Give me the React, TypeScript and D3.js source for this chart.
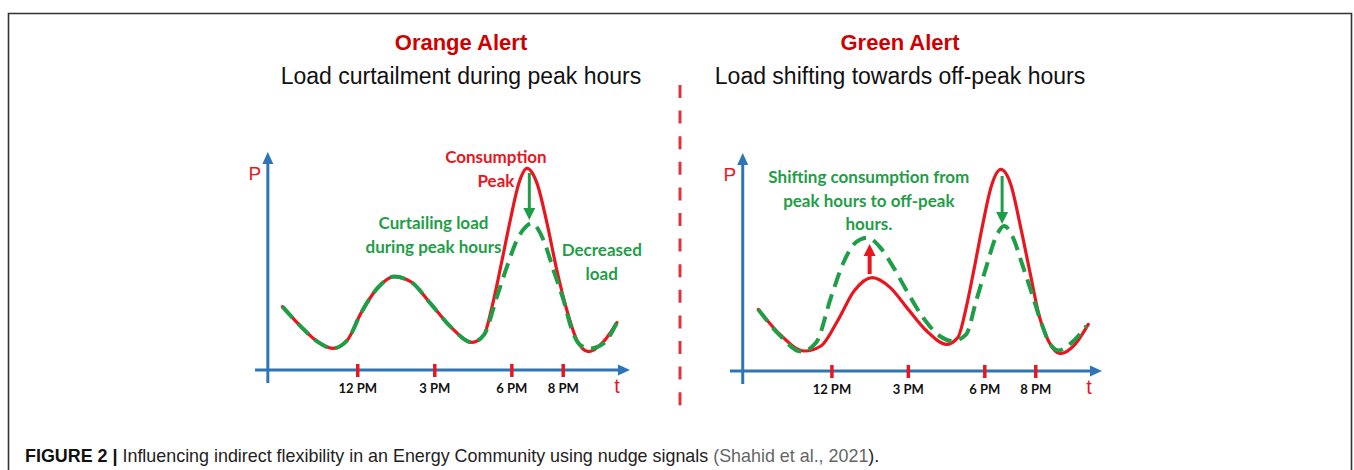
import React from "react";
import * as d3 from "d3";

// ---------- data ----------
const tickHours = [12, 15, 18, 20];
const tickLabels = ["12 PM", "3 PM", "6 PM", "8 PM"];

// Orange alert: original consumption (red) and curtailed (green dashed) [hour, P]
const orangeRed: [number, number][] = [
  [9.07, 3.17], [9.79, 2.17], [10.43, 1.42], [11.02, 1.08], [11.6, 1.5], [12.12, 2.83],
  [12.76, 4.08], [13.41, 4.67], [14.06, 4.42], [14.83, 3.33], [15.61, 2.17], [16.45, 1.38],
  [16.91, 1.75], [17.23, 3.17], [17.62, 5.5], [17.94, 7.5], [18.27, 9.33], [18.59, 10.08],
  [18.98, 9.33], [19.37, 7.33], [19.75, 5.0], [20.14, 3.0], [20.53, 1.5], [20.98, 0.92],
  [21.57, 1.42], [22.09, 2.37],
];
const orangeGreen: [number, number][] = [
  [9.07, 3.17], [9.79, 2.17], [10.43, 1.42], [11.02, 1.08], [11.6, 1.5], [12.12, 2.83],
  [12.76, 4.08], [13.41, 4.67], [14.06, 4.42], [14.83, 3.33], [15.61, 2.17], [16.45, 1.38],
  [16.91, 1.75], [17.42, 3.67], [17.81, 5.17], [18.2, 6.5], [18.52, 7.13], [18.78, 7.33],
  [19.23, 6.5], [19.62, 5.0], [20.01, 3.5], [20.34, 2.0], [20.66, 1.25], [21.05, 1.08],
  [21.57, 1.33], [22.09, 2.37],
];

// Green alert: original consumption (red) and shifted (green dashed) [hour, P]
const greenRed: [number, number][] = [
  [9.11, 3.08], [9.89, 1.92], [10.93, 1.0], [11.57, 1.25], [12.22, 2.5], [12.87, 4.0],
  [13.58, 4.67], [14.29, 4.17], [14.94, 3.17], [15.72, 2.0], [16.49, 1.33], [16.94, 1.67],
  [17.27, 3.17], [17.59, 5.17], [17.92, 7.33], [18.24, 9.17], [18.63, 10.08], [19.02, 9.33],
  [19.41, 7.17], [19.79, 4.83], [20.12, 2.83], [20.5, 1.5], [20.96, 0.87], [21.54, 1.33],
  [22.06, 2.33],
];
const greenGreen: [number, number][] = [
  [9.11, 3.08], [9.89, 1.87], [10.8, 0.97], [11.38, 1.42], [11.96, 3.67], [12.48, 5.5],
  [12.93, 6.42], [13.39, 6.67], [13.9, 6.17], [14.42, 5.17], [14.94, 4.0], [15.58, 2.67],
  [16.23, 1.75], [16.75, 1.5], [17.27, 1.83], [17.66, 3.5], [18.05, 5.17], [18.43, 6.67],
  [18.76, 7.25], [19.08, 6.75], [19.47, 5.33], [19.86, 3.83], [20.24, 2.33], [20.57, 1.33],
  [20.89, 1.03], [21.41, 1.42], [21.99, 2.25],
];

// arrows: [hour, fromP, toP]
const orangeArrows = [{ h: 18.68, from: 9.85, to: 7.5, color: "green" }];
const greenArrows = [
  { h: 18.68, from: 9.75, to: 7.35, color: "green" },
  { h: 13.48, from: 4.85, to: 6.35, color: "red" },
];

const RED = "#e8161e";
const GREEN = "#1f9e48";
const BLUE = "#2e75b6";
const TITLE_RED = "#d00000";

type PanelProps = {
  x0: number;
  x1: number;
  y0: number;
  title: string;
  subtitle: string;
  red: [number, number][];
  green: [number, number][];
  arrows: { h: number; from: number; to: number; color: string }[];
  notes: { text: string[]; color: string; hx: number; baseline: number }[];
  titleX: number;
};

function Panel({ x0, x1, y0, title, subtitle, red, green, arrows, notes, titleX }: PanelProps) {
  const x = d3.scaleLinear().domain([8, 22.6]).range([x0, x1]);
  const y = d3.scaleLinear().domain([0, 11]).range([y0, y0 - 220]);
  const line = d3
    .line<[number, number]>()
    .x((d) => x(d[0]))
    .y((d) => y(d[1]))
    .curve(d3.curveMonotoneX);
  const axX = x(8.5);
  const tipY = y(10.9);
  const tipX = x(22.6);
  return (
    <g>
      <text x={titleX} y={50} textAnchor="middle" fontFamily="Liberation Sans, Arial, sans-serif" fontWeight="bold" fontSize={22} fill={TITLE_RED}>
        {title}
      </text>
      <text x={titleX} y={84} textAnchor="middle" fontFamily="Liberation Sans, Arial, sans-serif" fontSize={23} fill="#111">
        {subtitle}
      </text>
      {/* axes */}
      <line x1={axX} x2={axX} y1={y(-0.65)} y2={tipY + 10} stroke={BLUE} strokeWidth={3} />
      <path d={`M${axX - 5.5},${tipY + 12} L${axX},${tipY} L${axX + 5.5},${tipY + 12} Z`} fill={BLUE} />
      <line x1={x(8)} x2={tipX - 10} y1={y(0)} y2={y(0)} stroke={BLUE} strokeWidth={3} />
      <path d={`M${tipX - 12},${y(0) - 5.5} L${tipX},${y(0)} L${tipX - 12},${y(0) + 5.5} Z`} fill={BLUE} />
      {tickHours.map((h, i) => (
        <g key={h}>
          <line x1={x(h)} x2={x(h)} y1={y(0) - 6} y2={y(0) + 7} stroke={RED} strokeWidth={3.5} />
          <text x={x(h)} y={y(0) + 23} textAnchor="middle" fontFamily="Lato, sans-serif" fontWeight="bold" fontSize={13} fill="#111">
            {tickLabels[i]}
          </text>
        </g>
      ))}
      <text x={axX - 13} y={y(9.85) + 7} textAnchor="middle" fontFamily="Liberation Sans, Arial, sans-serif" fontSize={19} fill={RED}>
        P
      </text>
      <text x={tipX - 13} y={y(0) + 23} textAnchor="middle" fontFamily="Liberation Sans, Arial, sans-serif" fontSize={20} fill={RED}>
        t
      </text>
      {/* curves */}
      <path d={line(red) || ""} fill="none" stroke={RED} strokeWidth={3.2} strokeLinecap="round" />
      <path d={line(green) || ""} fill="none" stroke={GREEN} strokeWidth={4} strokeDasharray="15 8" />
      {/* arrows */}
      {arrows.map((a, i) => {
        const c = a.color === "red" ? RED : GREEN;
        const xa = x(a.h);
        const yf = y(a.from);
        const yt = y(a.to);
        const dir = yt > yf ? 1 : -1;
        const head = 12;
        return (
          <g key={i}>
            <line x1={xa} x2={xa} y1={yf} y2={yt - dir * head} stroke={c} strokeWidth={a.color === "red" ? 4 : 3} />
            <path d={`M${xa - 6},${yt - dir * head} L${xa},${yt} L${xa + 6},${yt - dir * head} Z`} fill={c} />
          </g>
        );
      })}
      {/* annotations */}
      {notes.map((n, i) =>
        n.text.map((t, j) => (
          <text key={`${i}-${j}`} x={x(n.hx)} y={n.baseline + j * 23.5} textAnchor="middle" fontFamily="Lato, sans-serif" fontWeight="bold" fontSize={17} fill={n.color}>
            {t}
          </text>
        ))
      )}
    </g>
  );
}

export default function App() {
  return (
    <svg width={1354} height={470} style={{ position: "absolute", left: 0, top: 0, background: "#fff" }}>
      <rect x={0} y={0} width={1354} height={470} fill="#fff" />
      <path d="M8.5,470 L8.5,13.5 L1351.5,13.5 L1351.5,470" fill="none" stroke="#333" strokeWidth={1.6} />
      <Panel
        x0={255}
        x1={630}
        y0={370}
        titleX={461}
        title="Orange Alert"
        subtitle="Load curtailment during peak hours"
        red={orangeRed}
        green={orangeGreen}
        arrows={orangeArrows}
        notes={[
          { text: ["Consumption", "Peak"], color: RED, hx: 17.38, baseline: 163 },
          { text: ["Curtailing load", "during peak hours"], color: GREEN, hx: 14.95, baseline: 229 },
          { text: ["Decreased", "load"], color: GREEN, hx: 21.5, baseline: 256 },
        ]}
      />
      <Panel
        x0={730}
        x1={1102}
        y0={371}
        titleX={900}
        title="Green Alert"
        subtitle="Load shifting towards off-peak hours"
        red={greenRed}
        green={greenGreen}
        arrows={greenArrows}
        notes={[{ text: ["Shifting consumption from", "peak hours to off-peak", "hours."], color: GREEN, hx: 13.45, baseline: 183 }]}
      />
      <line x1={680} x2={680} y1={85} y2={408} stroke="#d9363e" strokeWidth={3} strokeDasharray="13 12.6" />
      <text x={25} y={462} fontFamily="Liberation Sans, Arial, sans-serif" fontSize={17.9} fill="#222">
        <tspan fontWeight="bold" fill="#111">FIGURE 2 | </tspan>
        <tspan>Influencing indirect flexibility in an Energy Community using nudge signals </tspan>
        <tspan fill="#666">(Shahid et al., 2021</tspan>
        <tspan>).</tspan>
      </text>
    </svg>
  );
}
